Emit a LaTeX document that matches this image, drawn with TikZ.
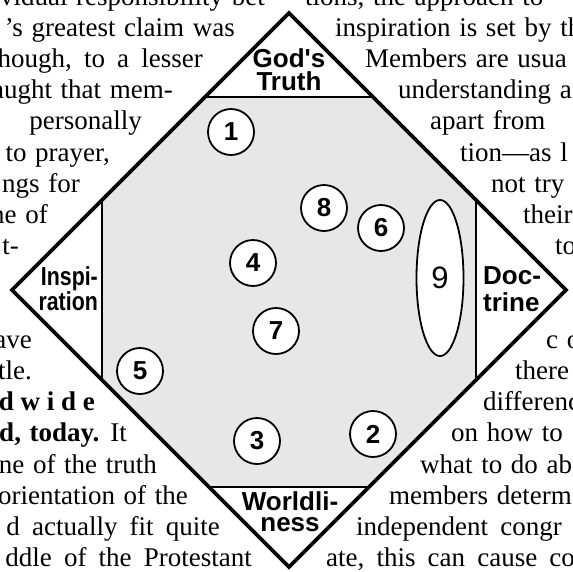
\documentclass[tikz,border=0pt]{standalone}
\usepackage{fontspec}
\setmainfont{Liberation Serif}
\newfontfamily\labelfont{Liberation Sans}
\newfontfamily\narrowfont[FakeStretch=0.82]{Liberation Sans}
\usepackage{xcolor}
\usepackage{tikz}
\usetikzlibrary{shapes.geometric}
\definecolor{octGray}{HTML}{E7E7E7}
\newcommand{\widespaces}{\spaceskip=0.32em\relax}
\newcommand{\loosespaces}{\spaceskip=0.45em\relax}
\begin{document}
\begin{tikzpicture}[x=1pt, y=-1pt, font=\fontsize{27}{31}\selectfont,
  lline/.style={anchor=base east, inner sep=0pt, execute at begin node=\widespaces},
  rline/.style={anchor=base west, inner sep=0pt, execute at begin node=\widespaces},
  region/.style={inner sep=0pt, font=\labelfont\bfseries\fontsize{26}{#1}\selectfont},
  numcircle/.style={draw, circle, line width=1.8pt, minimum size=46pt, inner sep=0pt, fill=white, font=\labelfont\bfseries\fontsize{26}{26}\selectfont}]
\useasboundingbox (0,0) rectangle (573,571);
\coordinate (T) at (289,13);
\coordinate (R) at (566,290);
\coordinate (B) at (289,567);
\coordinate (L) at (12,290);
% shaded middle and the four inner lines
\begin{scope}
  \clip (T) -- (R) -- (B) -- (L) -- cycle;
  \fill[octGray] (102,97) rectangle (476,487);
  \draw[line width=2.2pt] (102,97) rectangle (476,487);
\end{scope}
\draw[line width=3.8pt, line join=miter] (T) -- (R) -- (B) -- (L) -- cycle;
\node[region=23, align=center] (truth) at (289,69.5) {God's\\Truth};
\node[region=22, font=\narrowfont\bfseries\fontsize{26}{22}\selectfont, align=right, anchor=east] (insp) at (98,289) {Inspi-\\ration};
\node[region=27, align=left, anchor=west] (doct) at (483,289.5) {Doc-\\trine};
\node[region=21, align=center] (world) at (290,511.5) {Worldli-\\ness};
% positions
\node[numcircle] (n1) at (231,132) {1};
\node[numcircle] (n8) at (324,208) {8};
\node[numcircle] (n6) at (381,228) {6};
\node[numcircle] (n4) at (253,263) {4};
\node[numcircle] (n7) at (276,331) {7};
\node[numcircle] (n5) at (140,371) {5};
\node[numcircle] (n3) at (257,441) {3};
\node[numcircle] (n2) at (373,434) {2};
\node[draw, ellipse, line width=1.8pt, fill=white, minimum width=47pt, minimum height=156pt, inner sep=0pt, font=\labelfont\fontsize{31}{31}\selectfont] (n9) at (440,278) {9};
% page text around the figure
\begin{scope}
  \clip (0,0) rectangle (573,571);
  \foreach \k/\xe/\txt in {0/274/{vidual responsibility bet-}, 1/235/{’s greatest claim was},
      2/203/{\loosespaces hough, to a lesser}, 3/173/{aught that mem-}, 4/142/{personally},
      5/110/{to prayer,}, 6/80/{ngs for}, 7/48/{ne of}, 8/19/{t-}, 11/32/{ave},
      12/32/{tle.}, 13/95/{\spaceskip=0.25em\relax\textbf{d w i d e}}, 14/127/{\textbf{d, today.} It},
      15/157/{ne of the truth}, 16/188/{orientation of the}, 17/220/{\loosespaces d actually fit quite},
      18/252/{\loosespaces ddle of the Protestant}}
    \node[lline] (left\k) at (\xe, {5+31.2*\k}) {\txt};
  \foreach \k/\xs/\txt in {0/305/{tions, the approach to}, 1/335/{inspiration is set by th},
      2/365/{Members are usua}, 3/398/{understanding a}, 4/430/{apart from},
      5/460/{tion—as l}, 6/491/{not try}, 7/523/{their}, 8/555/{to}, 11/546/{c o},
      12/515/{there}, 13/483/{differenc}, 14/451/{on how to}, 15/420/{what to do abo},
      16/389/{members determ}, 17/356/{\loosespaces independent congr}, 18/326/{\loosespaces ate, this can cause co}}
    \node[rline] (right\k) at (\xs, {5+31.2*\k}) {\txt};
\end{scope}
\end{tikzpicture}
\end{document}
